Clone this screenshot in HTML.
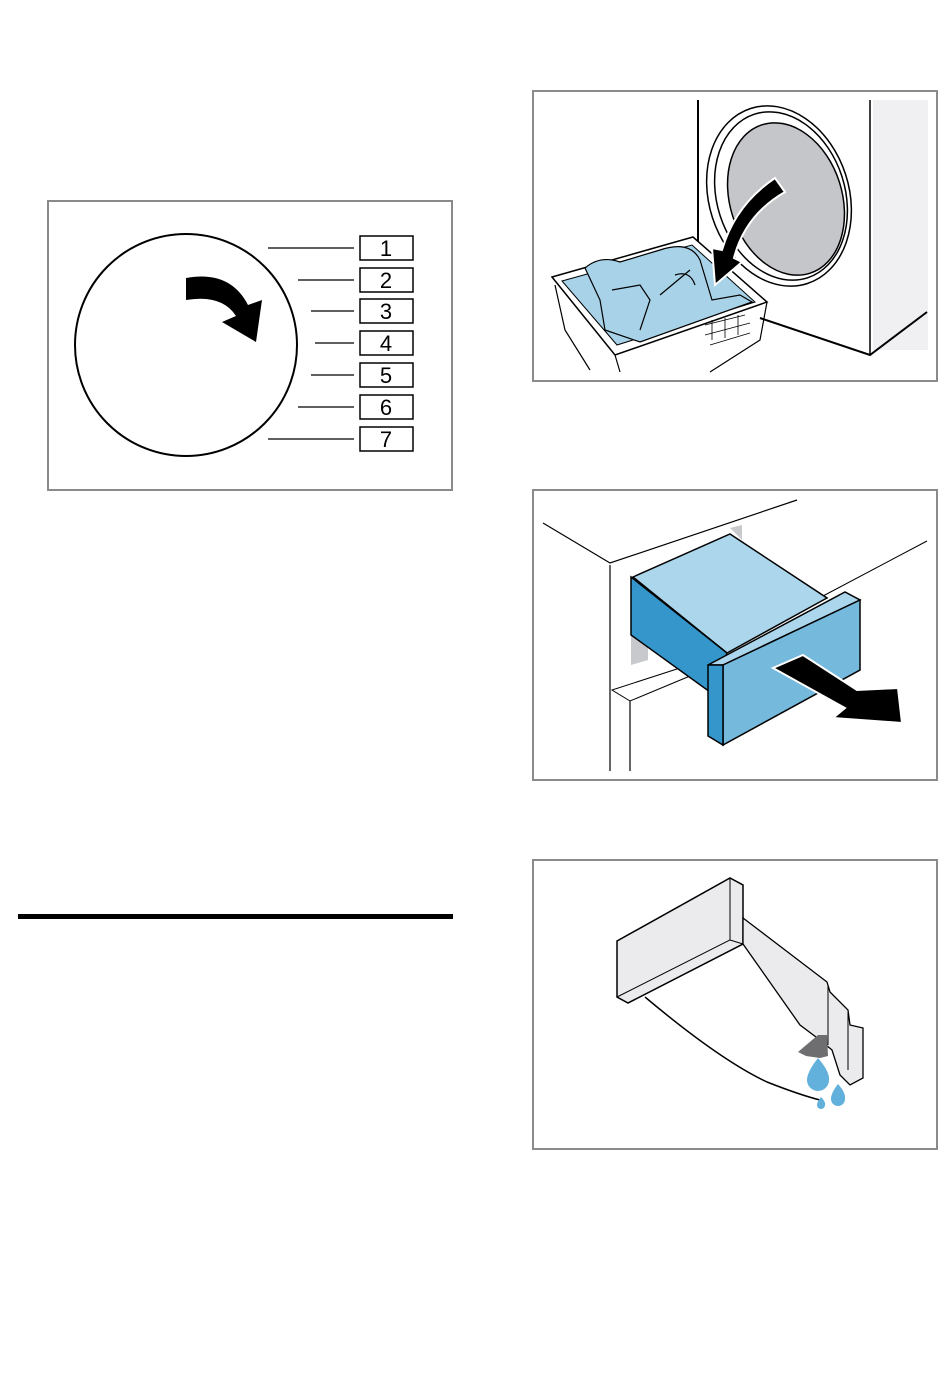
<!DOCTYPE html>
<html><head><meta charset="utf-8"><style>
html,body{margin:0;padding:0;background:#fff}
body{width:950px;height:1392px;position:relative;overflow:hidden;font-family:"Liberation Sans",sans-serif}
</style></head><body>
<svg width="950" height="1392" viewBox="0 0 950 1392" xmlns="http://www.w3.org/2000/svg" style="position:absolute;left:0;top:0">
<!-- frames -->
<rect x="48" y="201" width="404" height="289" fill="none" stroke="#8a8a8a" stroke-width="2"/>
<rect x="533" y="91" width="404" height="290" fill="none" stroke="#8a8a8a" stroke-width="2"/>
<rect x="533" y="490" width="404" height="290" fill="none" stroke="#8a8a8a" stroke-width="2"/>
<rect x="533" y="860" width="404" height="289" fill="none" stroke="#8a8a8a" stroke-width="2"/>
<rect x="18" y="914" width="435" height="5" fill="#000"/>

<!-- dial -->
<circle cx="186" cy="345" r="111" fill="none" stroke="#000" stroke-width="2"/>
<path d="M186 278 Q230 270 248 305 L262 300 L256 342 L222 322 L236 316 Q222 294 186 300 Z" fill="#000"/>
<g stroke="#000" stroke-width="1.2">
<line x1="268" y1="248" x2="354" y2="248"/>
<line x1="298" y1="280" x2="354" y2="280"/>
<line x1="311" y1="311" x2="354" y2="311"/>
<line x1="315" y1="343" x2="354" y2="343"/>
<line x1="311" y1="375" x2="354" y2="375"/>
<line x1="298" y1="407" x2="354" y2="407"/>
<line x1="268" y1="439" x2="354" y2="439"/>
</g>
<g fill="#fff" stroke="#000" stroke-width="1.5">
<rect x="360" y="236" width="53" height="24"/>
<rect x="360" y="268" width="53" height="24"/>
<rect x="360" y="299" width="53" height="24"/>
<rect x="360" y="331" width="53" height="24"/>
<rect x="360" y="363" width="53" height="24"/>
<rect x="360" y="395" width="53" height="24"/>
<rect x="360" y="427" width="53" height="24"/>
</g>
<g font-size="22" text-anchor="middle" fill="#000">
<text x="386" y="256">1</text><text x="386" y="288">2</text><text x="386" y="319">3</text>
<text x="386" y="351">4</text><text x="386" y="383">5</text><text x="386" y="415">6</text><text x="386" y="447">7</text>
</g>

<!-- image 1: dryer + basket -->
<rect x="873" y="100" width="55" height="250" fill="#f0f0f2"/>
<line x1="698" y1="100" x2="698" y2="318" stroke="#000" stroke-width="2"/>
<line x1="870" y1="100" x2="870" y2="355" stroke="#000" stroke-width="1.5"/>
<polyline points="760,318 870,355 927,312" fill="none" stroke="#000" stroke-width="2"/>
<ellipse cx="779" cy="196" rx="70" ry="92" transform="rotate(-18 779 196)" fill="#fff" stroke="#000" stroke-width="1.5"/>
<ellipse cx="781" cy="196" rx="64" ry="86" transform="rotate(-18 781 196)" fill="none" stroke="#000" stroke-width="1.5"/>
<ellipse cx="786" cy="199" rx="56" ry="78" transform="rotate(-18 786 199)" fill="#c4c6ca" stroke="#000" stroke-width="1.5"/>
<!-- basket -->
<polygon points="552,277 693,237 767,302 615,355" fill="#fff" stroke="#000" stroke-width="1.5"/>
<polygon points="562,281 692,245 755,302 617,345" fill="#a8d2e8" stroke="#000" stroke-width="1"/>
<path d="M585,268 Q600,255 620,262 L660,250 Q690,240 700,260 L712,300 L740,295 L752,302 L640,342 L605,330 L600,300 Z" fill="#a8d2e8" stroke="#000" stroke-width="1.2"/>
<path d="M612,290 L640,285 L650,300 L640,330 M660,295 L690,270 M675,275 Q690,270 695,285" fill="none" stroke="#000" stroke-width="1.2"/>
<polyline points="555,285 565,330 590,370" fill="none" stroke="#000" stroke-width="1.2"/>
<polyline points="615,355 620,372" fill="none" stroke="#000" stroke-width="1.2"/>
<polyline points="767,302 760,340 710,372" fill="none" stroke="#000" stroke-width="1.2"/>
<g stroke="#000" stroke-width="0.8" fill="none"><path d="M705,325 l40,-10 M705,335 l45,-12 M710,345 l40,-12 M712,320 v20 M725,318 v20 M738,315 v20"/></g>
<path d="M785,192 L775,178 Q735,205 722,250 L712,248 L715,285 L742,262 L734,258 Q745,215 785,192 Z" fill="#000" stroke="#fff" stroke-width="2"/>

<!-- image 2: drawer -->
<polyline points="543,523 610,563 797,500" fill="none" stroke="#000" stroke-width="1.2"/>
<line x1="610" y1="565" x2="610" y2="771" stroke="#000" stroke-width="1.2"/>
<line x1="630" y1="701" x2="630" y2="771" stroke="#000" stroke-width="1.2"/>
<polyline points="680,668 612,690 630,701 690,676" fill="none" stroke="#000" stroke-width="1"/>
<line x1="823" y1="596" x2="927" y2="541" stroke="#000" stroke-width="1"/>
<polygon points="730,528 742,525 742,540" fill="#c8c9cc"/>
<polygon points="631,635 648,640 648,660 631,665" fill="#c8c9cc"/>
<polygon points="633,577 730,534 827,598 727,653" fill="#acd6ec" stroke="#000" stroke-width="1.5"/>
<polygon points="631,577 727,653 710,692 631,635" fill="#3596cc" stroke="#000" stroke-width="1.5"/>
<polygon points="708,665 845,592 860,600 723,665" fill="#acd6ec" stroke="#000" stroke-width="1.5"/>
<polygon points="723,665 860,600 860,670 723,745" fill="#75b9dd" stroke="#000" stroke-width="1.5"/>
<polygon points="708,665 723,665 723,745 708,736" fill="#3596cc" stroke="#000" stroke-width="1.5"/>
<polygon points="773,668 803,655 857,690 898,688 902,723 833,718 845,708" fill="#000" stroke="#fff" stroke-width="2"/>

<!-- image 3: drawer underside -->
<polygon points="617,941 730,878 743,885 743,944 628,1003 617,997" fill="#ebebee" stroke="#000" stroke-width="1.5"/>
<polyline points="617,941 730,878 730,940 617,997" fill="none" stroke="#000" stroke-width="1"/>
<polyline points="628,1003 743,944 730,940" fill="none" stroke="#000" stroke-width="1"/>
<polygon points="743,918 827,982 830,992 848,1010 850,1025 863,1028 863,1078 850,1085 840,1075 832,1050 820,1040 800,1025 743,944" fill="#ebebee" stroke="#000" stroke-width="1.3"/>
<line x1="828" y1="985" x2="828" y2="1045" stroke="#000" stroke-width="1"/>
<line x1="848" y1="1012" x2="848" y2="1070" stroke="#000" stroke-width="1"/>
<path d="M645,997 Q720,1060 767,1082 Q800,1095 820,1100" fill="none" stroke="#000" stroke-width="1.5"/>
<path d="M818,1035 L827,1035 L828,1056 L820,1058 L806,1056 L798,1052 Z" fill="#6e6e70"/>
<path d="M818,1058 Q830,1072 829,1080 A11 11 0 0 1 807,1080 Q807,1072 818,1058 Z" fill="#62b0dc"/>
<path d="M838,1084 Q846,1093 845,1099 A7 7 0 0 1 831,1099 Q831,1093 838,1084 Z" fill="#62b0dc"/>
<path d="M821,1097 Q826,1102 825,1105 A4 4 0 0 1 817,1105 Q817,1102 821,1097 Z" fill="#62b0dc"/>
</svg>
</body></html>
